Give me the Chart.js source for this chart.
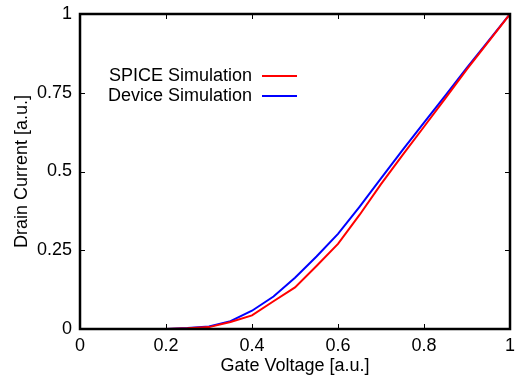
<!DOCTYPE html>
<html>
<head>
<meta charset="utf-8">
<script src="https://cdn.jsdelivr.net/npm/chart.js@4"></script>
<style>
  html, body { margin: 0; padding: 0; background: #fff; }
  #wrap { width: 515px; height: 378px; }
</style>
</head>
<body>
<div id="wrap"><canvas id="ivChart" width="515" height="378"></canvas></div>
<script>
// gate voltage sweep [a.u.]
const gateVoltage = [0, 0.05, 0.1, 0.15, 0.2, 0.25, 0.3, 0.35, 0.4, 0.45, 0.5,
                     0.55, 0.6, 0.65, 0.7, 0.75, 0.8, 0.85, 0.9, 0.95, 1];
const spiceCurrent = [0, 0, 0, 0, 0, 0.002, 0.006, 0.022, 0.043, 0.088, 0.132,
                      0.2, 0.27, 0.362, 0.46, 0.552, 0.642, 0.733, 0.825, 0.912, 1];
const deviceCurrent = [0, 0, 0, 0, 0, 0.003, 0.008, 0.025, 0.058, 0.103, 0.163,
                       0.23, 0.302, 0.388, 0.478, 0.568, 0.655, 0.742, 0.83, 0.915, 1];
const xTicks = [0, 0.2, 0.4, 0.6, 0.8, 1];
const yTicks = [0, 0.25, 0.5, 0.75, 1];

const FONT = "'Liberation Sans', Arial, Helvetica, sans-serif";
const FS = 18;

function points(ys) {
    return gateVoltage.map((x, i) => ({ x: x, y: ys[i] }));
}

// gnuplot-ish frame: thick box + inward ticks on all four sides
const framePlugin = {
    id: "frame",
    afterDatasetsDraw(chart) {
        const ctx = chart.ctx, a = chart.chartArea;
        const xs = chart.scales.x, ys = chart.scales.y;
        const len = 5;
        ctx.save();
        ctx.strokeStyle = "#000";
        ctx.lineWidth = 1;
        ctx.beginPath();
        xTicks.forEach(v => {
            const px = Math.round(xs.getPixelForValue(v)) + 0.5;
            ctx.moveTo(px, a.bottom); ctx.lineTo(px, a.bottom - len);
            ctx.moveTo(px, a.top); ctx.lineTo(px, a.top + len);
        });
        yTicks.forEach(v => {
            const py = Math.round(ys.getPixelForValue(v)) + 0.5;
            ctx.moveTo(a.left, py); ctx.lineTo(a.left + len, py);
            ctx.moveTo(a.right, py); ctx.lineTo(a.right - len, py);
        });
        ctx.stroke();
        ctx.lineWidth = 2.5;
        ctx.strokeRect(a.left, a.top, a.right - a.left, a.bottom - a.top);
        ctx.restore();
    }
};

// key inside the plot: right-aligned label, sample line to its right
const keyPlugin = {
    id: "key",
    afterDraw(chart) {
        const ctx = chart.ctx;
        ctx.save();
        ctx.font = FS + "px " + FONT;
        ctx.textAlign = "right";
        ctx.textBaseline = "middle";
        chart.data.datasets.forEach((ds, i) => {
            const y = 76 + i * 20;
            ctx.fillStyle = "#000";
            ctx.fillText(ds.label, 252, y);
            ctx.strokeStyle = ds.borderColor;
            ctx.lineWidth = 2;
            ctx.beginPath();
            ctx.moveTo(262, y);
            ctx.lineTo(297, y);
            ctx.stroke();
        });
        ctx.restore();
    }
};

new Chart(document.getElementById("ivChart"), {
    type: "line",
    data: {
        datasets: [{
            label: "SPICE Simulation",
            data: points(spiceCurrent),
            borderColor: "#ff0000",
            borderWidth: 2,
            pointRadius: 0,
            tension: 0
        }, {
            label: "Device Simulation",
            data: points(deviceCurrent),
            borderColor: "#0000ff",
            borderWidth: 2,
            pointRadius: 0,
            tension: 0
        }]
    },
    options: {
        responsive: false,
        animation: false,
        layout: { padding: { left: 0, right: 5, top: 14, bottom: 0 } },
        plugins: {
            legend: { display: false },
            tooltip: { enabled: false }
        },
        scales: {
            x: {
                type: "linear",
                min: 0,
                max: 1,
                afterBuildTicks: s => { s.ticks = xTicks.map(v => ({ value: v })); },
                afterFit: s => { s.height = 49; s.paddingLeft = 0; s.paddingRight = 0; },
                grid: { display: false, drawTicks: false },
                border: { display: false },
                ticks: {
                    color: "#000",
                    padding: 6,
                    maxRotation: 0,
                    font: { family: FONT, size: FS },
                    callback: v => String(v)
                },
                title: {
                    display: true,
                    text: "Gate Voltage [a.u.]",
                    color: "#000",
                    font: { family: FONT, size: FS },
                    padding: { top: 0, bottom: 1 }
                }
            },
            y: {
                min: 0,
                max: 1,
                afterBuildTicks: s => { s.ticks = yTicks.map(v => ({ value: v })); },
                afterFit: s => { s.width = 80; s.paddingTop = 0; s.paddingBottom = 0; },
                grid: { display: false, drawTicks: false },
                border: { display: false },
                ticks: {
                    color: "#000",
                    padding: 8,
                    font: { family: FONT, size: FS },
                    callback: v => String(v)
                },
                title: {
                    display: true,
                    text: "Drain Current [a.u.]",
                    color: "#000",
                    font: { family: FONT, size: FS },
                    padding: { top: 11, bottom: 0 }
                }
            }
        }
    },
    plugins: [framePlugin, keyPlugin]
});
</script>
</body>
</html>
